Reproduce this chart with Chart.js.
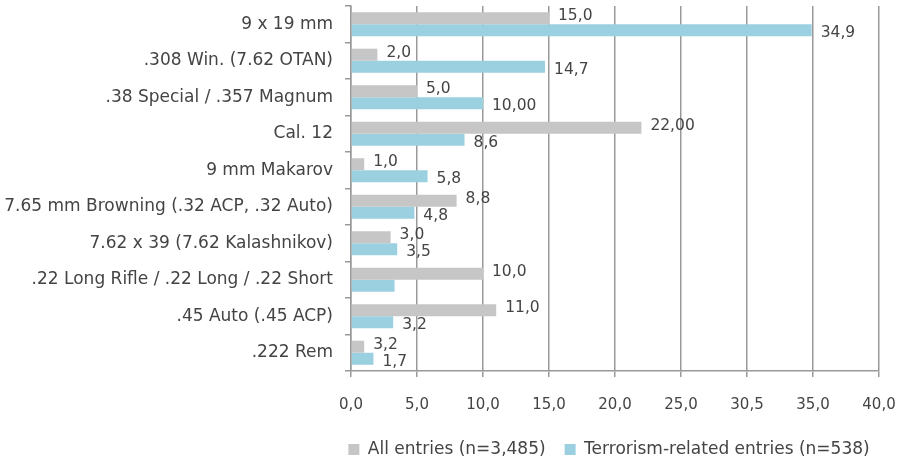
<!DOCTYPE html>
<html lang="en">
<head>
    <meta charset="UTF-8">
    <title>Calibres: all entries vs terrorism-related entries</title>
    <script src="https://cdn.jsdelivr.net/npm/chart.js@4.4.3/dist/chart.umd.min.js"></script>
    <style>
        body { margin: 0; background: #ffffff; }
        #wrap { position: relative; width: 905px; height: 461px; }
    </style>
</head>
<body>
    <div id="wrap">
        <canvas id="calibre-chart"></canvas>
    </div>

    <script>
        // Data
        const categories = [
            '9 x 19 mm',
            '.308 Win. (7.62 OTAN)',
            '.38 Special / .357 Magnum',
            'Cal. 12',
            '9 mm Makarov',
            '7.65 mm Browning (.32 ACP, .32 Auto)',
            '7.62 x 39 (7.62 Kalashnikov)',
            '.22 Long Rifle / .22 Long / .22 Short',
            '.45 Auto (.45 ACP)',
            '.222 Rem'
        ];
        const allEntries = [15.0, 2.0, 5.0, 22.0, 1.0, 8.0, 3.0, 10.0, 11.0, 1.0];
        const terrorEntries = [34.9, 14.7, 10.0, 8.6, 5.8, 4.8, 3.5, 3.3, 3.2, 1.7];

        // value labels exactly as printed on the original
        const allLabels = ['15,0', '2,0', '5,0', '22,00', '1,0', '8,8', '3,0', '10,0', '11,0', '3,2'];
        const terrorLabels = ['34,9', '14,7', '10,00', '8,6', '5,8', '4,8', '3,5', '', '3,2', '1,7'];

        const xTickLabels = ['0,0', '5,0', '10,0', '15,0', '20,0', '25,0', '30,5', '35,0', '40,0'];

        const seriesNames = ['All entries (n=3,485)', 'Terrorism-related entries (n=538)'];
        const seriesLabels = [allLabels, terrorLabels];

        const FONT = '"DejaVu Sans", sans-serif';
        const TEXT = '#444444';
        const GRID = '#999999';

        // writes the printed value next to the end of each bar
        const valueLabels = {
            id: 'valueLabels',
            afterDatasetsDraw(chart) {
                const ctx = chart.ctx;
                ctx.save();
                ctx.font = '15.5px ' + FONT;
                ctx.fillStyle = TEXT;
                ctx.textAlign = 'left';
                ctx.textBaseline = 'middle';
                chart.data.datasets.forEach((ds, i) => {
                    const meta = chart.getDatasetMeta(i);
                    const dy = i === 0 ? -2 : 3;
                    meta.data.forEach((bar, j) => {
                        const txt = seriesLabels[i][j];
                        if (!txt) return;
                        ctx.fillText(txt, bar.x + 9, bar.y + dy);
                    });
                });
                ctx.restore();
            }
        };

        // centre the legend under the plot area and push it down a little
        const legendUnderPlot = {
            id: 'legendUnderPlot',
            afterLayout(chart) {
                const lg = chart.legend;
                if (!lg) return;
                const c = (chart.chartArea.left + chart.chartArea.right) / 2 - 6;
                const half = Math.min(c, chart.width - c);
                lg.left = c - half;
                lg.right = c + half;
                lg.width = lg.right - lg.left;
                lg.top += 7;
                lg.bottom += 7;
            }
        };

        new Chart(document.getElementById('calibre-chart'), {
            type: 'bar',
            data: {
                labels: categories,
                datasets: [
                    {
                        label: seriesNames[0],
                        data: allEntries,
                        backgroundColor: '#c6c6c6',
                        barPercentage: 1,
                        categoryPercentage: 0.66
                    },
                    {
                        label: seriesNames[1],
                        data: terrorEntries,
                        backgroundColor: '#9ad0e0',
                        barPercentage: 1,
                        categoryPercentage: 0.66
                    }
                ]
            },
            options: {
                indexAxis: 'y',
                responsive: true,
                maintainAspectRatio: false,
                animation: false,
                layout: { padding: { top: 6, right: 26, bottom: 0, left: 0 } },
                plugins: {
                    legend: {
                        position: 'bottom',
                        labels: {
                            boxWidth: 11,
                            boxHeight: 11,
                            padding: 19,
                            color: TEXT,
                            font: { family: FONT, size: 17 }
                        }
                    },
                    tooltip: { enabled: false }
                },
                scales: {
                    x: {
                        min: 0,
                        max: 40,
                        ticks: {
                            stepSize: 5,
                            color: TEXT,
                            padding: 19,
                            maxRotation: 0,
                            font: { family: FONT, size: 15 },
                            callback: (v, i) => xTickLabels[i]
                        },
                        grid: { color: GRID, lineWidth: 1.5, tickLength: 6 },
                        border: { color: GRID, width: 1.5 },
                        afterFit: (scale) => {
                            scale.height = 44;
                            scale.paddingLeft = 0;
                            scale.paddingRight = 0;
                        }
                    },
                    y: {
                        ticks: {
                            color: TEXT,
                            padding: 12,
                            font: { family: FONT, size: 17 }
                        },
                        grid: { offset: true, drawOnChartArea: false, color: GRID, lineWidth: 1.5, tickLength: 6 },
                        border: { color: GRID, width: 1.5 },
                        afterFit: (scale) => {
                            scale.width = 351;
                            scale.paddingTop = 0;
                            scale.paddingBottom = 0;
                        }
                    }
                }
            },
            plugins: [valueLabels, legendUnderPlot]
        });
    </script>
</body>
</html>
